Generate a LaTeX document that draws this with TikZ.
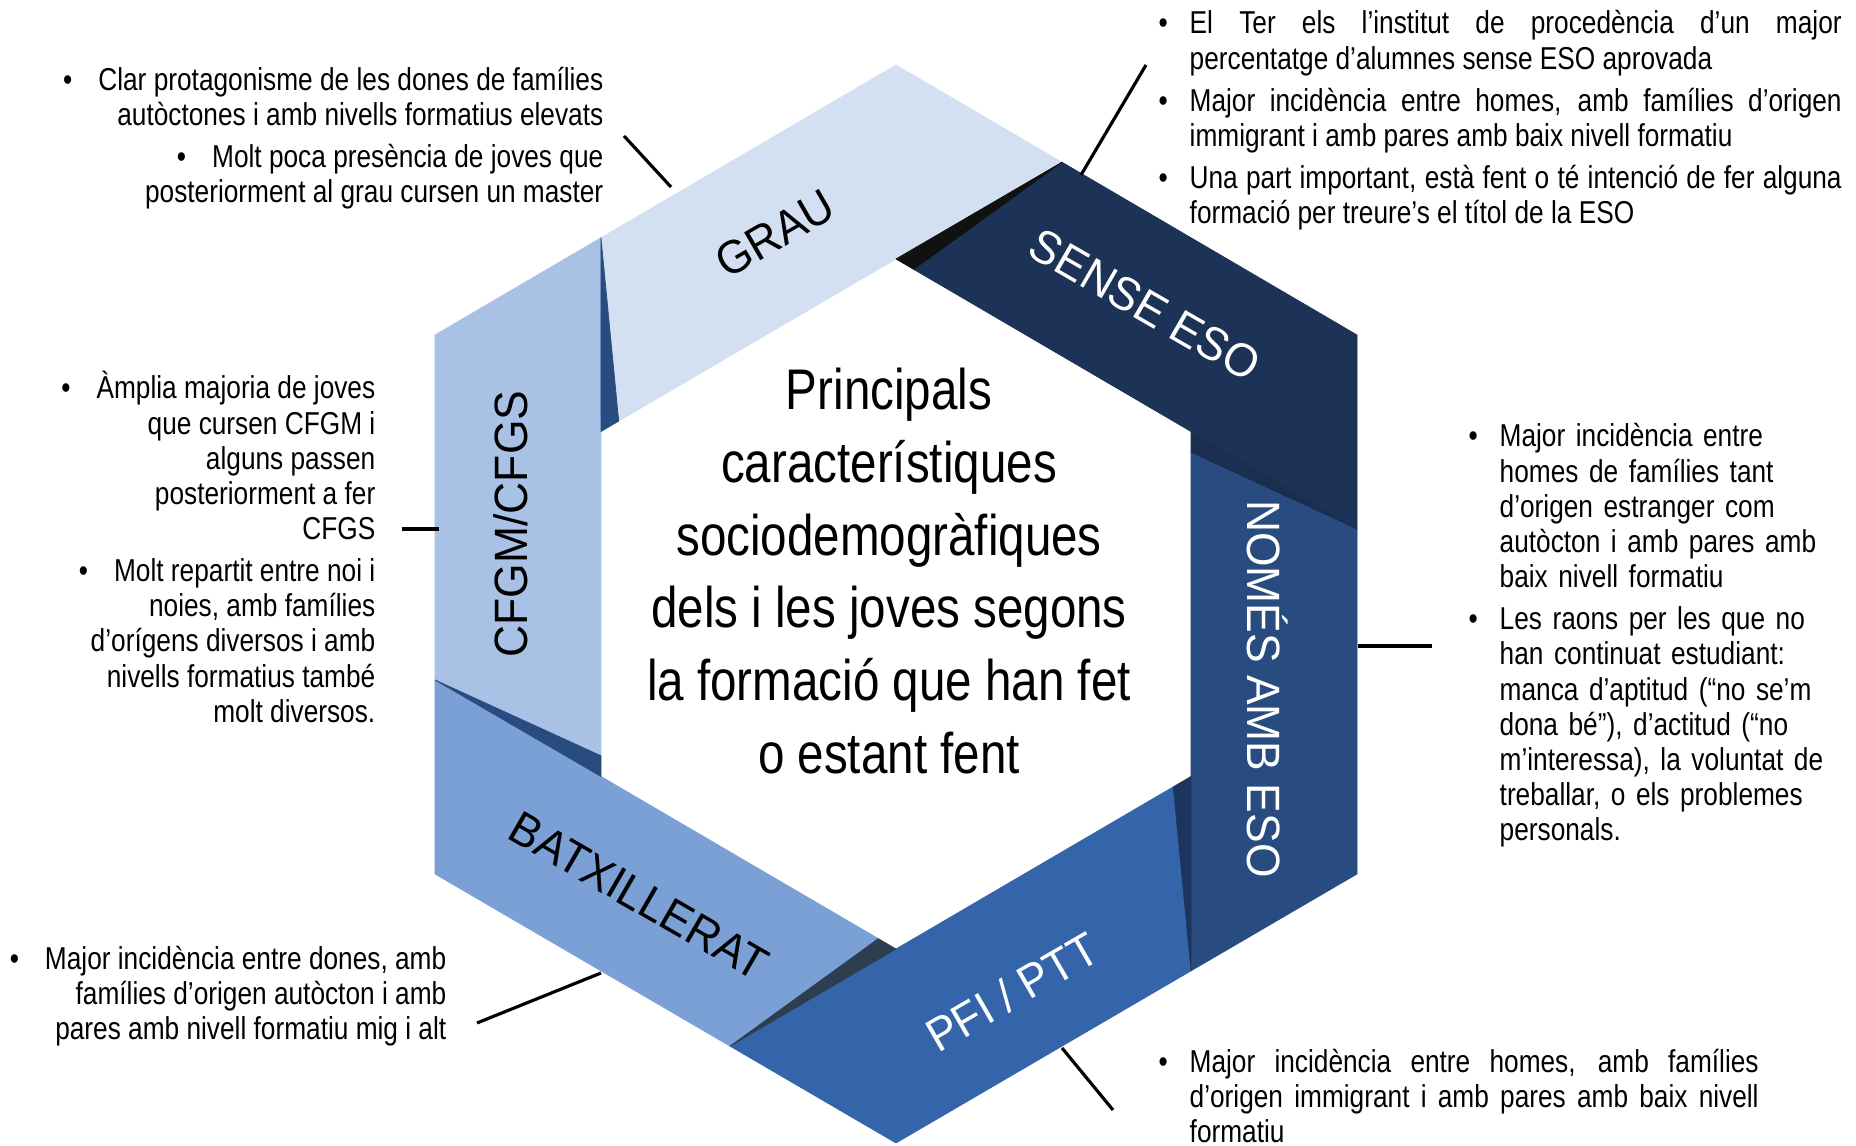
\documentclass[tikz,border=0pt]{standalone}
\usepackage{fontspec}
\setmainfont{Liberation Sans}[FakeStretch=0.83]
\newfontfamily\bandfont{Liberation Sans}[FakeStretch=0.95]
\usetikzlibrary{calc}

\definecolor{graublue}{HTML}{D3E0F2}
\definecolor{cfgmblue}{HTML}{A8C1E5}
\definecolor{batxblue}{HTML}{7BA0D6}
\definecolor{pfiblue}{HTML}{3465AA}
\definecolor{nomesblue}{HTML}{294C80}
\definecolor{senseblue}{HTML}{1C3256}
\definecolor{foldnavy}{HTML}{284C80}
\definecolor{foldblack}{HTML}{111111}
\definecolor{folddeep}{HTML}{1B2E50}
\definecolor{foldpfi}{HTML}{1D355D}
\definecolor{foldslate}{HTML}{2D3E50}

\newlength{\bulind}
\setlength{\bulind}{3.1mm}
\newcommand{\bul}{\par\noindent\hangindent=\bulind\hangafter=1\makebox[\bulind][l]{\textbullet}}

\begin{document}
\begin{tikzpicture}[x=0.1mm, y=-0.1mm,
  band/.style={fill=#1, draw=#1, line width=0.2pt, line join=round},
  lbl/.style={font=\bandfont\fontsize{13.3}{14}\selectfont, inner sep=0pt},
  info/.style={font=\fontsize{9}{10}\selectfont, inner sep=0pt},
  link/.style={line width=0.9pt}]
  \useasboundingbox (0,0) rectangle (1856,1146);

  % outer and inner hexagon
  \coordinate (O1) at (896,65);
  \coordinate (O2) at (1357,335);
  \coordinate (O3) at (1357,874);
  \coordinate (O4) at (896,1143);
  \coordinate (O5) at (435,874);
  \coordinate (O6) at (435,335);
  \coordinate (I1) at (896,259);
  \coordinate (I2) at (1191,431.5);
  \coordinate (I3) at (1191,776.5);
  \coordinate (I4) at (896,949);
  \coordinate (I5) at (601,776.5);
  \coordinate (I6) at (601,431.5);

  % where the bands meet
  \coordinate (Q1) at ($(O1)!0.36!(O2)$);
  \coordinate (Q2) at ($(O2)!0.36!(O3)$);
  \coordinate (Q3) at ($(O3)!0.36!(O4)$);
  \coordinate (Q4) at ($(O4)!0.36!(O5)$);
  \coordinate (Q5) at ($(O5)!0.36!(O6)$);
  \coordinate (Q6) at ($(O6)!0.36!(O1)$);
  \coordinate (S1) at ($(I1)!0.06!(I2)$);
  \coordinate (S2) at ($(I2)!0.06!(I3)$);
  \coordinate (S3) at ($(I3)!0.06!(I4)$);
  \coordinate (S4) at ($(I4)!0.06!(I5)$);
  \coordinate (S5) at ($(I5)!0.06!(I6)$);
  \coordinate (S6) at ($(I6)!0.06!(I1)$);

  % bands
  \path[band=graublue] (Q6) -- (O1) -- (Q1) -- (I1) -- (S6) -- cycle;
  \path[band=senseblue] (Q1) -- (O2) -- (Q2) -- (I2) -- (S1) -- cycle;
  \path[band=nomesblue] (Q2) -- (O3) -- (Q3) -- (I3) -- (S2) -- cycle;
  \path[band=pfiblue] (Q3) -- (O4) -- (Q4) -- (I4) -- (S3) -- cycle;
  \path[band=batxblue] (Q4) -- (O5) -- (Q5) -- (I5) -- (S4) -- cycle;
  \path[band=cfgmblue] (Q5) -- (O6) -- (Q6) -- (I6) -- (S5) -- cycle;

  % folds
  \path[band=foldnavy] (Q6) -- (S6) -- (I6) -- cycle;
  \path[band=foldblack] (Q1) -- (S1) -- (I1) -- cycle;
  \path[band=folddeep] (Q2) -- (S2) -- (I2) -- cycle;
  \path[band=foldpfi] (Q3) -- (S3) -- (I3) -- cycle;
  \path[band=foldslate] (Q4) -- (S4) -- (I4) -- cycle;
  \path[band=foldnavy] (Q5) -- (S5) -- (I5) -- cycle;

  % band labels
  \node[lbl, rotate=30] (grau) at (775,234) {GRAU};
  \node[lbl, rotate=-30, text=white] (sense) at (1145,305) {SENSE ESO};
  \node[lbl, rotate=-90, text=white] (nomes) at (1268,689) {NOMÉS AMB ESO};
  \node[lbl, rotate=30, text=white] (pfi) at (1012,992) {PFI / PTT};
  \node[lbl, rotate=-30] (batx) at (639,896) {BATXILLERAT};
  \node[lbl, rotate=90] (cfgm) at (511,524) {CFGM/CFGS};

  % centre
  \node[font=\fontsize{16.3}{20.7}\selectfont, align=center, inner sep=0pt] (title) at (889,571) {Principals\\característiques\\sociodemogràfiques\\dels i les joves segons\\la formació que han fet\\o estant fent};

  % notes
  \node[info, align=right, anchor=east] (grauinfo) at (604,138) {\textbullet\hspace{2.6mm}Clar protagonisme de les dones de famílies\\autòctones i amb nivells formatius elevats\\[2pt]\textbullet\hspace{2.6mm}Molt poca presència de joves que\\posteriorment al grau cursen un master};
  \node[info, anchor=west, text width=68.3mm, align=justify, execute at begin node={\setlength{\parskip}{2pt}}] (senseinfo) at (1158,111) {\bul El Ter els l’institut de procedència d’un major\linebreak percentatge d’alumnes sense ESO aprovada\bul Major incidència entre homes, amb famílies d’origen\linebreak immigrant i amb pares amb baix nivell formatiu\bul Una part important, està fent o té intenció de fer alguna\linebreak formació per treure’s el títol de la ESO\par};
  \node[info, anchor=west, text width=42mm, align=left, execute at begin node={\setlength{\parskip}{2pt}}] (nomesinfo) at (1468,626) {\bul Major incidència entre\newline homes de famílies tant\newline d’origen estranger com\newline autòcton i amb pares amb\newline baix nivell formatiu\bul Les raons per les que no\newline han continuat estudiant:\newline manca d’aptitud (“no se’m\newline dona bé”), d’actitud (“no\newline m’interessa), la voluntat de\newline treballar, o els problemes\newline personals.\par};
  \node[info, anchor=west, text width=60mm, align=justify] (pfiinfo) at (1158,1090) {\bul Major incidència entre homes, amb famílies\linebreak d’origen immigrant i amb pares amb baix nivell\linebreak formatiu\par};
  \node[info, align=right, anchor=east] (batxinfo) at (447,996) {\textbullet\hspace{2.6mm}Major incidència entre dones, amb\\famílies d’origen autòcton i amb\\pares amb nivell formatiu mig i alt};
  \node[info, align=right, anchor=east] (cfgminfo) at (376,547) {\textbullet\hspace{2.6mm}Àmplia majoria de joves\\que cursen CFGM i\\alguns passen\\posteriorment a fer\\CFGS\\[2pt]\textbullet\hspace{2.6mm}Molt repartit entre noi i\\noies, amb famílies\\d’orígens diversos i amb\\nivells formatius també\\molt diversos.};

  % connectors
  \coordinate (grauA) at (624,136);
  \coordinate (grauB) at (671,187);
  \coordinate (senseA) at (1081,175);
  \coordinate (senseB) at (1146,65);
  \coordinate (cfgmA) at (402,529);
  \coordinate (cfgmB) at (439,529);
  \coordinate (nomesA) at (1358,646);
  \coordinate (nomesB) at (1432,646);
  \coordinate (batxA) at (477,1023);
  \coordinate (batxB) at (601,973);
  \coordinate (pfiA) at (1062,1048);
  \coordinate (pfiB) at (1113,1110);
  \draw[link] (grauA) -- (grauB);
  \draw[link] (senseA) -- (senseB);
  \draw[link] (cfgmA) -- (cfgmB);
  \draw[link] (nomesA) -- (nomesB);
  \draw[link] (batxA) -- (batxB);
  \draw[link] (pfiA) -- (pfiB);
\end{tikzpicture}
\end{document}
